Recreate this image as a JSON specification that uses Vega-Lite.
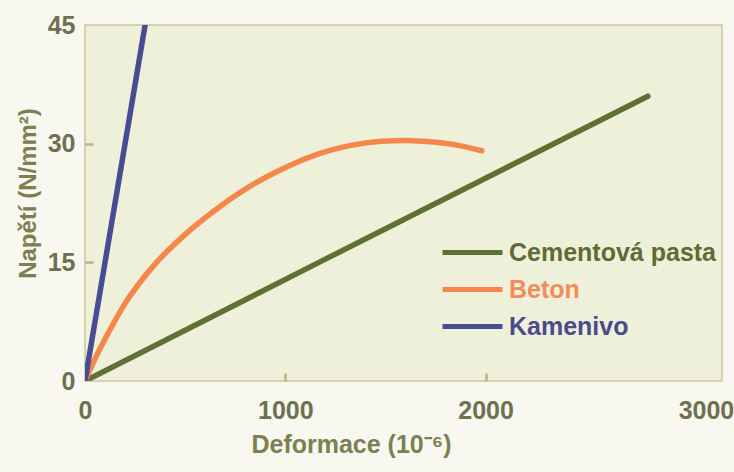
{
  "$schema": "https://vega.github.io/schema/vega-lite/v6.json",
  "width": 637,
  "height": 356,
  "autosize": {"type": "none"},
  "padding": {"left": 85, "top": 25, "right": 12, "bottom": 91},
  "background": "#f8f8f0",
  "config": {
    "view": {"fill": "#eef0da", "stroke": "#c9c79c", "strokeWidth": 1.5},
    "font": "Liberation Sans"
  },
  "data": {
    "values": [
      {"serie": "Cementová pasta", "d": 0, "n": 0},
      {"serie": "Cementová pasta", "d": 1200, "n": 15.4},
      {"serie": "Cementová pasta", "d": 2810, "n": 36.0},
      {"serie": "Beton", "d": 0, "n": 0},
      {"serie": "Beton", "d": 50, "n": 2.8},
      {"serie": "Beton", "d": 100, "n": 5.3},
      {"serie": "Beton", "d": 200, "n": 9.8},
      {"serie": "Beton", "d": 333, "n": 14.3},
      {"serie": "Beton", "d": 499, "n": 18.5},
      {"serie": "Beton", "d": 666, "n": 21.9},
      {"serie": "Beton", "d": 833, "n": 24.75},
      {"serie": "Beton", "d": 1000, "n": 27.0},
      {"serie": "Beton", "d": 1166, "n": 28.7},
      {"serie": "Beton", "d": 1320, "n": 29.75},
      {"serie": "Beton", "d": 1480, "n": 30.3},
      {"serie": "Beton", "d": 1600, "n": 30.4},
      {"serie": "Beton", "d": 1739, "n": 30.2},
      {"serie": "Beton", "d": 1870, "n": 29.75},
      {"serie": "Beton", "d": 1981, "n": 29.1},
      {"serie": "Kamenivo", "d": 0, "n": 0},
      {"serie": "Kamenivo", "d": 300, "n": 45}
    ]
  },
  "mark": {"type": "line", "strokeWidth": 5.5, "strokeCap": "round", "interpolate": "monotone", "clip": true},
  "encoding": {
    "x": {
      "field": "d", "type": "quantitative",
      "scale": {"domain": [0, 3180], "nice": false, "zero": false},
      "axis": {
        "values": [0, 1000, 2000, 3000],
        "format": "d",
        "title": "Deformace (10⁻⁶)",
        "domain": false, "grid": false,
        "tickColor": "#b8b47c", "tickWidth": 2.5, "tickSize": -8,
        "tickOpacity": {"condition": {"test": "datum.value == 1000 || datum.value == 2000", "value": 1}, "value": 0},
        "labelOffset": {"condition": {"test": "datum.value == 3000", "value": 20}, "value": 0},
        "labelFont": "Liberation Sans", "labelFontWeight": "bold", "labelFontSize": 25,
        "labelColor": "#6e704f", "labelPadding": 25, "labelFlush": false,
        "titleFont": "Liberation Sans", "titleFontWeight": "bold", "titleFontSize": 25,
        "titleColor": "#7a8050", "titleX": 266, "titleY": 71, "titleBaseline": "alphabetic", "titleAnchor": "middle", "titleAlign": "center"
      }
    },
    "y": {
      "field": "n", "type": "quantitative",
      "scale": {"domain": [0, 45], "nice": false},
      "axis": {
        "values": [0, 15, 30, 45],
        "title": "Napětí (N/mm²)",
        "domain": false, "grid": false,
        "tickColor": "#b8b47c", "tickWidth": 2.5, "tickSize": -8,
        "tickOpacity": {"condition": {"test": "datum.value == 15 || datum.value == 30", "value": 1}, "value": 0},
        "labelFont": "Liberation Sans", "labelFontWeight": "bold", "labelFontSize": 25,
        "labelColor": "#6e704f", "labelPadding": 18, "labelFlush": false,
        "titleFont": "Liberation Sans", "titleFontWeight": "bold", "titleFontSize": 24,
        "titleColor": "#7a8050", "titleX": -50, "titleY": 168, "titleBaseline": "alphabetic", "titleAngle": -90, "titleAlign": "center"
      }
    },
    "color": {
      "field": "serie", "type": "nominal",
      "scale": {"domain": ["Cementová pasta", "Beton", "Kamenivo"], "range": ["#5f7035", "#f5874a", "#484c92"]},
      "legend": {
        "orient": "none", "legendX": 370, "legendY": 210,
        "title": null, "padding": 0,
        "symbolType": "M-2,0H2", "symbolSize": 900, "symbolStrokeWidth": 5,
        "labelFont": "Liberation Sans", "labelFontWeight": "bold", "labelFontSize": 25,
        "labelOffset": 19, "rowPadding": 6, "labelLimit": 400,
        "labelColor": {"expr": "datum.label == 'Beton' ? '#f38d58' : datum.label == 'Kamenivo' ? '#4b4b8c' : '#5e6b34'"}
      }
    }
  }
}
